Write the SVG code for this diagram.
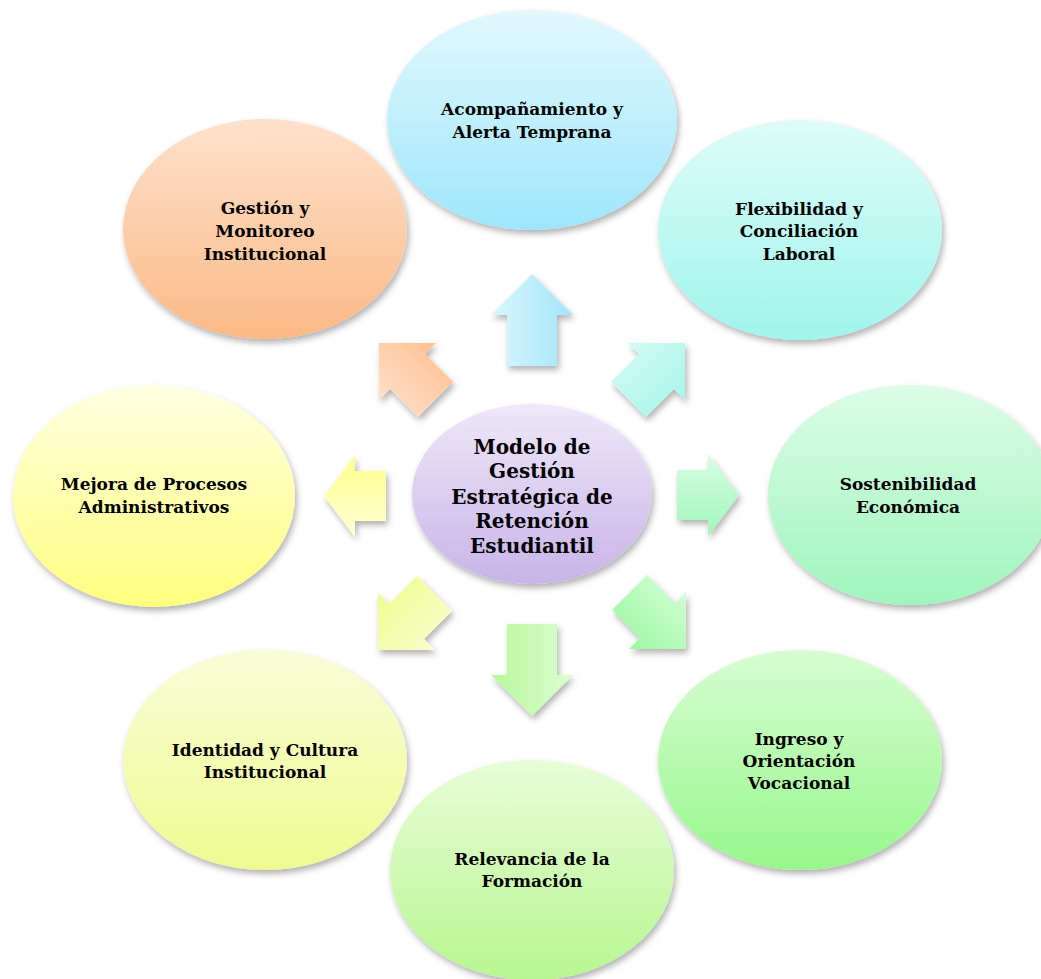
<svg xmlns="http://www.w3.org/2000/svg" width="1041" height="979" viewBox="0 0 1041 979">
<defs>
<filter id="sh" x="-20%" y="-20%" width="140%" height="140%">
<feDropShadow dx="2" dy="4" stdDeviation="3" flood-color="#000" flood-opacity="0.3"/>
</filter>
<linearGradient id="gTop" x1="0" y1="0" x2="0" y2="1"><stop offset="0" stop-color="#E2F8FE"/><stop offset="1" stop-color="#9EE6FB"/></linearGradient>
<linearGradient id="gTR" x1="0" y1="0" x2="0" y2="1"><stop offset="0" stop-color="#DEFCF8"/><stop offset="1" stop-color="#9FF5EB"/></linearGradient>
<linearGradient id="gR" x1="0" y1="0" x2="0" y2="1"><stop offset="0" stop-color="#DCFCE6"/><stop offset="1" stop-color="#9FF5BC"/></linearGradient>
<linearGradient id="gBR" x1="0" y1="0" x2="0" y2="1"><stop offset="0" stop-color="#D6FDD2"/><stop offset="1" stop-color="#97F78C"/></linearGradient>
<linearGradient id="gB" x1="0" y1="0" x2="0" y2="1"><stop offset="0" stop-color="#E8FDD8"/><stop offset="1" stop-color="#B8F690"/></linearGradient>
<linearGradient id="gBL" x1="0" y1="0" x2="0" y2="1"><stop offset="0" stop-color="#F9FDD8"/><stop offset="1" stop-color="#EEFB90"/></linearGradient>
<linearGradient id="gL" x1="0" y1="0" x2="0" y2="1"><stop offset="0" stop-color="#FFFFE2"/><stop offset="1" stop-color="#FFFF7E"/></linearGradient>
<linearGradient id="gTL" x1="0" y1="0" x2="0" y2="1"><stop offset="0" stop-color="#FEE2CC"/><stop offset="1" stop-color="#FBB986"/></linearGradient>
<linearGradient id="gC" x1="0" y1="0" x2="0" y2="1"><stop offset="0" stop-color="#EEE8F9"/><stop offset="1" stop-color="#C8B4E8"/></linearGradient>
<linearGradient id="aUp" x1="0" y1="0" x2="1" y2="0"><stop offset="0" stop-color="#DAF7FD"/><stop offset="1" stop-color="#A2E5FA"/></linearGradient>
<linearGradient id="aNE" x1="0" y1="0" x2="1" y2="1"><stop offset="0" stop-color="#D8FCF6"/><stop offset="1" stop-color="#A2F4E7"/></linearGradient>
<linearGradient id="aNW" x1="0" y1="1" x2="1" y2="0"><stop offset="0" stop-color="#FEE4D0"/><stop offset="1" stop-color="#FDBB8A"/></linearGradient>
<linearGradient id="aL" x1="0" y1="0" x2="0" y2="1"><stop offset="0" stop-color="#FFFF8C"/><stop offset="1" stop-color="#FFFFD6"/></linearGradient>
<linearGradient id="aR" x1="0" y1="0" x2="0" y2="1"><stop offset="0" stop-color="#D8FDE2"/><stop offset="1" stop-color="#A0F6BB"/></linearGradient>
<linearGradient id="aSW" x1="0" y1="0" x2="1" y2="1"><stop offset="0" stop-color="#EEFC8A"/><stop offset="1" stop-color="#FAFED4"/></linearGradient>
<linearGradient id="aD" x1="0" y1="0" x2="1" y2="0"><stop offset="0" stop-color="#B8F89C"/><stop offset="1" stop-color="#DCFDCF"/></linearGradient>
<linearGradient id="aSE" x1="1" y1="0" x2="0" y2="1"><stop offset="0" stop-color="#DAFEDC"/><stop offset="1" stop-color="#94F79A"/></linearGradient>
</defs>
<style>
.n{filter:url(#sh);}
.t{font-family:"DejaVu Serif","Liberation Serif",serif;font-weight:bold;font-size:17px;fill:#000;text-anchor:middle;}
.tc{font-size:20px;}
</style>
<rect width="1041" height="979" fill="#fff"/>
<g id="connectors">
<polygon class="n" fill="url(#aUp)" points="532,274 573,315 557,315 557,366 507,366 507,315 491,315"/>
<polygon class="n" fill="url(#aNE)" points="685,343 628,343 639,354 611,382 646,417 674,389 685,400"/>
<polygon class="n" fill="url(#aR)" points="739,495 708,454 708,470 677,470 677,520 708,520 708,536"/>
<polygon class="n" fill="url(#aSE)" points="686,649 629,649 640,638 612,610 647,575 675,603 686,592"/>
<polygon class="n" fill="url(#aD)" points="532,716 491,675 507,675 507,624 557,624 557,675 573,675"/>
<polygon class="n" fill="url(#aSW)" points="378,650 435,650 424,639 452,611 417,576 389,604 378,593"/>
<polygon class="n" fill="url(#aL)" points="324,496 355,455 355,471 386,471 386,521 355,521 355,537"/>
<polygon class="n" fill="url(#aNW)" points="379,343 436,343 425,354 453,382 418,417 390,389 379,400"/>
</g>
<g id="n-top"><ellipse class="n" cx="532" cy="120" rx="145" ry="110" fill="url(#gTop)"/>
<text class="t" x="532" y="115">Acompañamiento y</text><text class="t" x="532" y="138">Alerta Temprana</text></g>
<g id="n-tr"><ellipse class="n" cx="800" cy="230" rx="142" ry="110" fill="url(#gTR)"/>
<text class="t" x="799" y="215">Flexibilidad y</text><text class="t" x="799" y="237">Conciliación</text><text class="t" x="799" y="260">Laboral</text></g>
<g id="n-r"><ellipse class="n" cx="910" cy="495" rx="142" ry="110" fill="url(#gR)"/>
<text class="t" x="908" y="490">Sostenibilidad</text><text class="t" x="908" y="513">Económica</text></g>
<g id="n-br"><ellipse class="n" cx="800" cy="760" rx="142" ry="110" fill="url(#gBR)"/>
<text class="t" x="799" y="745">Ingreso y</text><text class="t" x="799" y="767">Orientación</text><text class="t" x="799" y="789">Vocacional</text></g>
<g id="n-b"><ellipse class="n" cx="532" cy="870" rx="142" ry="110" fill="url(#gB)"/>
<text class="t" x="532" y="865">Relevancia de la</text><text class="t" x="532" y="887">Formación</text></g>
<g id="n-bl"><ellipse class="n" cx="265" cy="760" rx="142" ry="110" fill="url(#gBL)"/>
<text class="t" x="265" y="756">Identidad y Cultura</text><text class="t" x="265" y="778">Institucional</text></g>
<g id="n-l"><ellipse class="n" cx="154" cy="496" rx="141" ry="111" fill="url(#gL)"/>
<text class="t" x="154" y="490">Mejora de Procesos</text><text class="t" x="154" y="513">Administrativos</text></g>
<g id="n-tl"><ellipse class="n" cx="265" cy="229" rx="142" ry="110" fill="url(#gTL)"/>
<text class="t" x="265" y="214">Gestión y</text><text class="t" x="265" y="237">Monitoreo</text><text class="t" x="265" y="260">Institucional</text></g>
<g id="n-center"><ellipse class="n" cx="532" cy="494" rx="120" ry="90" fill="url(#gC)"/>
<text class="t tc" x="532" y="454">Modelo de</text><text class="t tc" x="532" y="478">Gestión</text><text class="t tc" x="532" y="504">Estratégica de</text><text class="t tc" x="532" y="528">Retención</text><text class="t tc" x="532" y="553">Estudiantil</text></g>
</svg>
